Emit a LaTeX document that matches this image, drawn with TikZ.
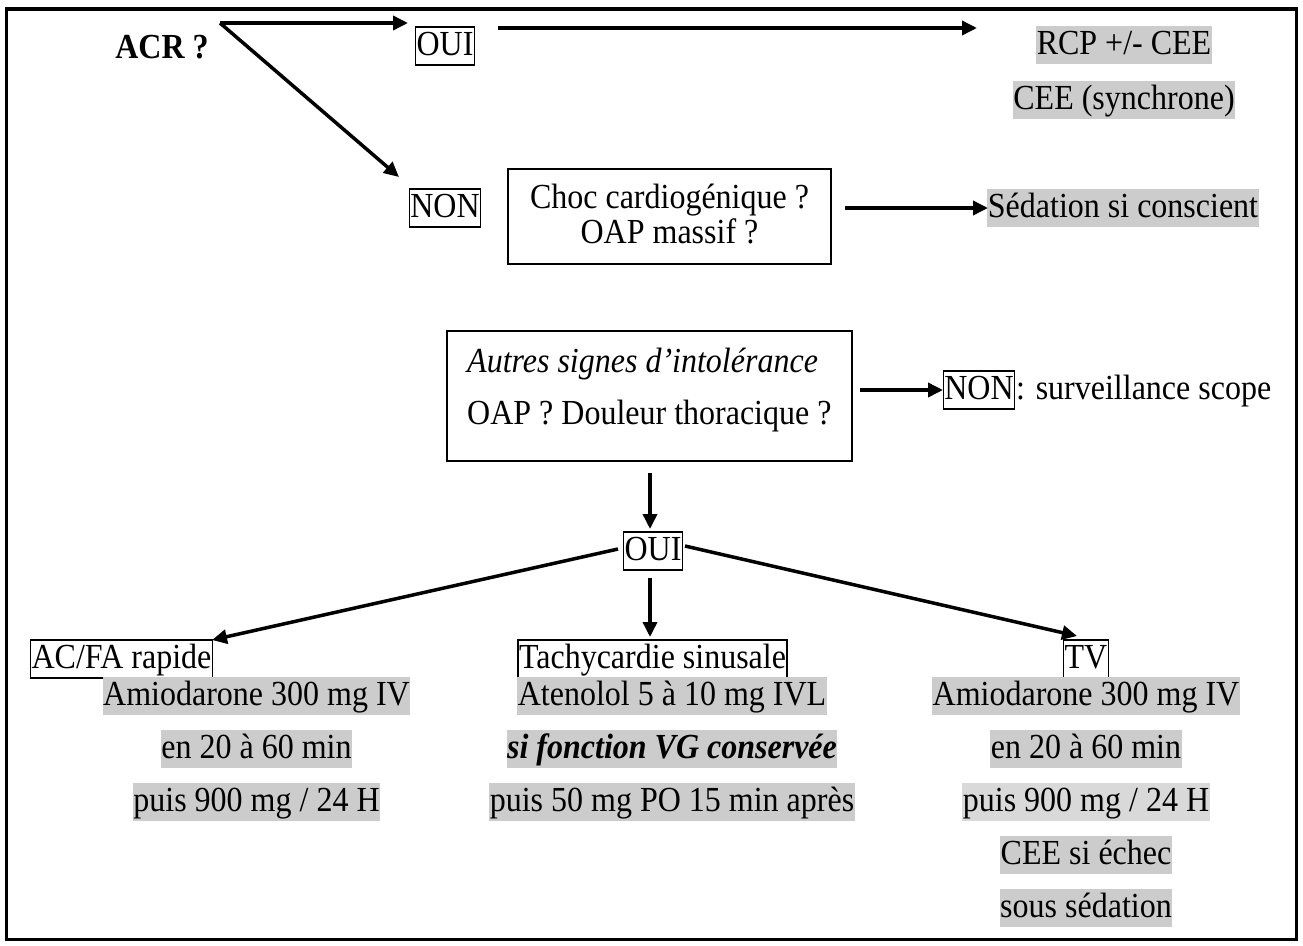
\documentclass[tikz,border=0pt]{standalone}
\usepackage{fontspec}
\usepackage{graphicx}
\setmainfont{Liberation Serif}
\usetikzlibrary{arrows.meta}
\definecolor{hl}{HTML}{CCCCCC}
\definecolor{hlb}{HTML}{D9D9D9}
\newcommand{\Tx}[1]{\scalebox{1}[1.1]{#1}}
\begin{document}
\begin{tikzpicture}[x=1pt,y=-1pt,
  every node/.style={font=\fontsize{32}{38}\selectfont},
  hlbox/.style={fill=hl, inner xsep=0.5pt, inner ysep=0pt, text height=28pt, text depth=10pt, anchor=base},
  lab/.style={draw, line width=1.5pt, inner xsep=1pt, inner ysep=0pt, text height=28pt, text depth=10pt, anchor=base},
  plain/.style={inner sep=0pt, anchor=base},
  arr/.style={line width=3.5pt, -{Triangle[length=15pt,width=14pt]}},
  framestyle/.style={line width=3.5pt},
  qbox/.style={draw, line width=1.5pt, inner sep=0pt}]
\useasboundingbox (0,0) rectangle (1303,945);
\draw[framestyle] (6.5,9) rectangle (1296.5,939.5);

% top part
\node[plain, font=\fontsize{32}{38}\selectfont\bfseries] (acr) at (162,58) {\Tx{ACR ?}};
\node[lab] (oui1) at (445,55) {\Tx{OUI}};
\node[hlbox] (rcp) at (1124,54) {\Tx{RCP +/- CEE}};
\node[hlbox] (cee) at (1124,109) {\Tx{CEE (synchrone)}};
\node[lab] (non1) at (445,217) {\Tx{NON}};
\node[qbox, minimum width=323pt, minimum height=95pt] (choc) at (669.5,216.5) {};
\node[plain] (choc1) at (669.5,208) {\Tx{Choc cardiogénique ?}};
\node[plain] (choc2) at (669.5,243) {\Tx{OAP massif ?}};
\node[hlbox] (sed) at (1123,217) {\Tx{Sédation si conscient}};

\coordinate (acrS) at (220,23);
\coordinate (ouiT) at (408,23);
\coordinate (nonT) at (399,177);
\coordinate (ouiS) at (498,28);
\coordinate (rcpT) at (977,28);
\coordinate (chocS) at (845,208);
\coordinate (sedT) at (988,208);
\draw[arr] (acrS) -- (ouiT);
\draw[arr] (acrS) -- (nonT);
\draw[arr] (ouiS) -- (rcpT);
\draw[arr] (chocS) -- (sedT);

% middle part
\node[qbox, minimum width=405pt, minimum height=130pt] (autres) at (649.5,396) {};
\node[plain, anchor=base west] (aut1) at (467,372) {\Tx{\itshape Autres signes d’intolérance}};
\node[plain, anchor=base west] (aut2) at (467,424) {\Tx{OAP ? Douleur thoracique ?}};
\node[lab] (non2) at (979,399) {\Tx{NON}};
\node[plain, anchor=base west] (surv) at (1016,399) {\Tx{: surveillance scope}};
\node[lab] (oui2) at (653,560) {\Tx{OUI}};

\coordinate (autS) at (860,390);
\coordinate (nonT2) at (943,390);
\coordinate (autD) at (650,473);
\coordinate (ouiT2) at (650,529);
\coordinate (ouiD) at (650,578);
\coordinate (tachyT) at (650,637);
\coordinate (ouiL) at (618,549);
\coordinate (acfaT) at (212,640);
\coordinate (ouiR) at (685,546);
\coordinate (tvT) at (1077,636);
\draw[arr] (autS) -- (nonT2);
\draw[arr] (autD) -- (ouiT2);
\draw[arr] (ouiD) -- (tachyT);
\draw[arr] (ouiL) -- (acfaT);
\draw[arr] (ouiR) -- (tvT);

% bottom labels
\node[lab] (acfa) at (121.5,668) {\Tx{AC/FA rapide}};
\node[lab] (tachy) at (652.5,668) {\Tx{Tachycardie sinusale}};
\node[lab] (tv) at (1086,668) {\Tx{TV}};

% left column
\node[hlbox] (l1) at (256.5,705) {\Tx{Amiodarone 300 mg IV}};
\node[hlbox] (l2) at (256.5,758) {\Tx{en 20 à 60 min}};
\node[hlbox] (l3) at (256.5,811) {\Tx{puis 900 mg / 24 H}};

% middle column
\node[hlbox] (m1) at (672,705) {\Tx{Atenolol 5 à 10 mg IVL}};
\node[hlbox, font=\fontsize{32}{38}\selectfont\bfseries\itshape] (m2) at (672,758) {\Tx{si fonction VG conservée}};
\node[hlbox] (m3) at (672,811) {\Tx{puis 50 mg PO 15 min après}};

% right column
\node[hlbox] (r1) at (1086,705) {\Tx{Amiodarone 300 mg IV}};
\node[hlbox] (r2) at (1086,758) {\Tx{en 20 à 60 min}};
\node[hlbox, fill=hlb] (r3) at (1086,811) {\Tx{puis 900 mg / 24 H}};
\node[hlbox] (r4) at (1086,864) {\Tx{CEE si échec}};
\node[hlbox] (r5) at (1086,917) {\Tx{sous sédation}};
\end{tikzpicture}
\end{document}
